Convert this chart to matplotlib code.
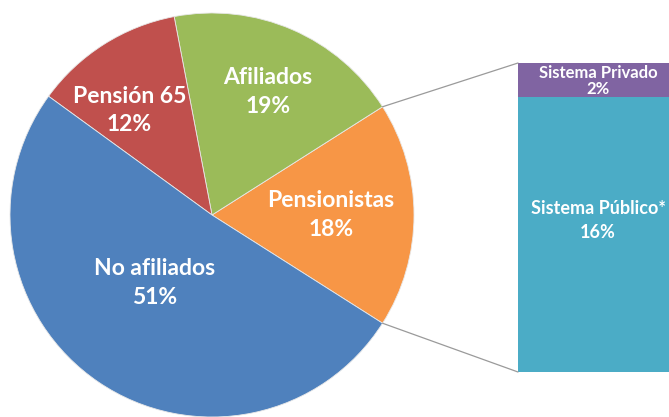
import numpy as np
import matplotlib
matplotlib.use("Agg")
import matplotlib.pyplot as plt
from matplotlib.patches import ConnectionPatch

# Data
pie_labels = ["Pensionistas", "Afiliados", "Pensión 65", "No afiliados"]
pie_values = [18, 19, 12, 51]
pie_colors = ["#F79646", "#9BBB59", "#C0504D", "#4F81BD"]
bar_labels = ["Sistema Público*", "Sistema Privado"]
bar_values = [16, 2]
bar_colors = ["#4BACC6", "#8064A2"]

# label placement (radius fraction, angle offset deg) per slice
label_r = [0.59, 0.67, 0.66, 0.44]
label_dang = [0, -1, 6, -6]

W, H = 669, 417
fig = plt.figure(figsize=(W / 100, H / 100), dpi=100)
fig.patch.set_facecolor("white")
font = ["Lato", "DejaVu Sans"]

cx, cy, R = 212, 202, 202
ax = fig.add_axes([(cx - R) / W, (cy - R) / H, 2 * R / W, 2 * R / H])
start = -pie_values[0] / 100 * 360 / 2
wedges, _ = ax.pie(pie_values, colors=pie_colors, startangle=start,
                   counterclock=True, radius=1,
                   wedgeprops=dict(linewidth=0.6, edgecolor="#e8e8e8"))
ax.set_xlim(-1, 1)
ax.set_ylim(-1, 1)
ax.set_aspect("equal")
ax.axis("off")

for w, lab, v, r, da in zip(wedges, pie_labels, pie_values, label_r, label_dang):
    ang = np.deg2rad((w.theta1 + w.theta2) / 2 + da)
    ax.text(r * np.cos(ang), r * np.sin(ang), f"{lab}\n{v}%",
            ha="center", va="center", color="white", fontsize=16.5,
            fontweight="bold", family=font, linespacing=1.45)

# Bar of pie
bx0, bw, by0, bh = 518, 160, 45, 309
bax = fig.add_axes([bx0 / W, by0 / H, bw / W, bh / H])
bottom = 0
for lab, v, c in zip(bar_labels, bar_values, bar_colors):
    bax.bar(0, v, width=1, bottom=bottom, color=c, linewidth=0)
    bottom += v
bax.set_xlim(-0.5, 0.5)
bax.set_ylim(0, sum(bar_values))
bax.axis("off")
bax.text(0, 8.85, f"{bar_labels[0]}\n{bar_values[0]}%", ha="center",
         va="center", color="white", fontsize=13, fontweight="bold",
         family=font, linespacing=1.5)
bax.text(0, 16.95, f"{bar_labels[1]}\n{bar_values[1]}%", ha="center",
         va="center", color="white", fontsize=12, fontweight="bold",
         family=font, linespacing=0.95)

# connectors
w0 = wedges[0]
for th, yb in [(w0.theta2, sum(bar_values)), (w0.theta1, 0)]:
    t = np.deg2rad(th)
    con = ConnectionPatch(xyA=(np.cos(t), np.sin(t)), coordsA=ax.transData,
                          xyB=(-0.5, yb), coordsB=bax.transData,
                          color="#9a9a9a", linewidth=0.9)
    fig.add_artist(con)

fig.savefig("out.png", dpi=100)
